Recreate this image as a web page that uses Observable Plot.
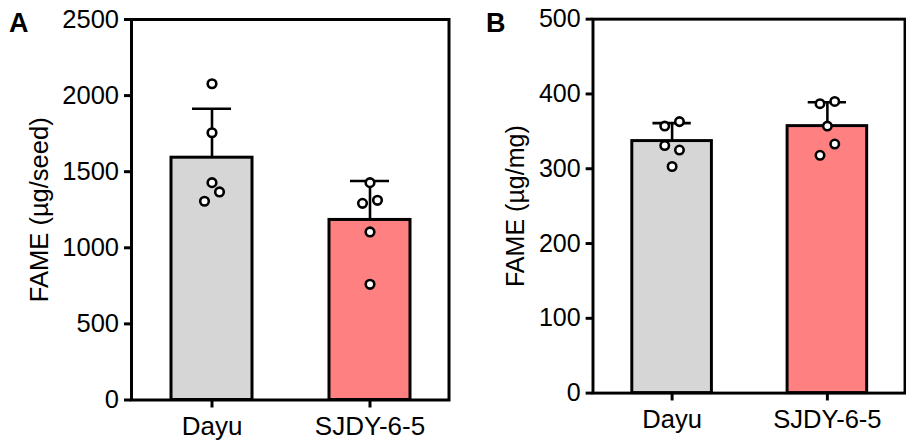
<!DOCTYPE html>
<html><head><meta charset="utf-8">
<script src="https://cdn.jsdelivr.net/npm/d3@7"></script>
<script src="https://cdn.jsdelivr.net/npm/@observablehq/plot@0.6"></script>
<style>
body{margin:0;background:#fff;}
#wrap{position:relative;width:906px;height:442px;overflow:hidden;background:#fff;font-family:"Liberation Sans",Arial,sans-serif;}
.panel{position:absolute;top:0;}
.letter{position:absolute;font-weight:bold;font-size:27px;line-height:27px;color:#000;}
</style></head><body>
<div id="wrap">
  <div id="pa" class="panel" style="left:0px"></div>
  <div id="pb" class="panel" style="left:450px"></div>
  <div class="letter" style="left:9px;top:10px">A</div>
  <div class="letter" style="left:486px;top:10px">B</div>
</div>
<script>
// ---- data ----
const genotypes = ["Dayu", "SJDY-6-5"];
const barColors = ["#d6d6d6", "#ff8080"];

// Panel A: FAME per seed
const seedMean = [1592, 1183];
const seedSD = [322, 256];
const seedDayu = [2078, 1756, 1428, 1367, 1306];
const seedDayuLane = [0, 0, 0, 1, -1];
const seedSJDY = [1428, 1292, 1312, 1104, 760];
const seedSJDYLane = [0, -1, 1, 0, 0];
const seedTicks = [0, 500, 1000, 1500, 2000, 2500];

// Panel B: FAME per mg
const mgMean = [337, 357];
const mgSD = [24, 32];
const mgDayu = [357, 363, 331, 325, 303];
const mgDayuLane = [-1, 1, -1, 1, 0];
const mgSJDY = [387, 390, 357, 333, 318];
const mgSJDYLane = [-1, 1, 0, 1, -1];
const mgTicks = [0, 100, 200, 300, 400, 500];

function panel({mean, sd, groups, lanes, ticks, label, marginLeft, width, labelOffset}) {
  const bars = genotypes.map((g, i) => ({g, mean: mean[i], sd: sd[i]}));
  const pts = [];
  groups.forEach((vals, i) => vals.forEach((v, j) => pts.push({g: genotypes[i], v, lane: lanes[i][j]})));
  const dotMarks = [-1, 0, 1].map(l => Plot.dot(pts.filter(d => d.lane === l), {
    x: "g", y: "v", r: 4.3, fill: "white", stroke: "black", strokeWidth: 2.6, dx: l * 7.5
  }));
  return Plot.plot({
    width, height: 442,
    marginLeft, marginRight: 1.5, marginTop: 19, marginBottom: 42.5,
    style: {fontFamily: '"Liberation Sans", Arial, sans-serif', fontSize: "25.5px", color: "black", background: "transparent", overflow: "visible"},
    x: {domain: genotypes, paddingInner: 0.487, paddingOuter: 0.248, align: 0.51, label: null},
    y: {domain: [0, ticks[ticks.length - 1]], label: null},
    color: {domain: genotypes, range: barColors},
    marks: [
      Plot.barY(bars, {x: "g", y: "mean", fill: "g", stroke: "black", strokeWidth: 3}),
      Plot.ruleX(bars, {x: "g", y1: "mean", y2: d => d.mean + d.sd, stroke: "black", strokeWidth: 2.6}),
      Plot.tickY(bars, {x: "g", y: d => d.mean + d.sd, stroke: "black", strokeWidth: 2.6, insetLeft: 21, insetRight: 21}),
      ...dotMarks,
      Plot.frame({stroke: "black", strokeWidth: 3}),
      Plot.axisY({ticks, tickSize: 7, tickPadding: 5.5, strokeWidth: 3, tickFormat: d => String(d),
        label, labelAnchor: "center", labelArrow: "none", labelOffset}),
      Plot.axisX({tickSize: 8, tickPadding: 9, strokeWidth: 3, fontSize: 26, label: null})
    ]
  });
}

document.getElementById("pa").appendChild(panel({
  mean: seedMean, sd: seedSD, groups: [seedDayu, seedSJDY], lanes: [seedDayuLane, seedSJDYLane],
  ticks: seedTicks, label: "FAME (µg/seed)", marginLeft: 131, width: 450, labelOffset: 102
}));
document.getElementById("pb").appendChild(panel({
  mean: mgMean, sd: mgSD, groups: [mgDayu, mgSJDY], lanes: [mgDayuLane, mgSJDYLane],
  ticks: mgTicks, label: "FAME (µg/mg)", marginLeft: 145, width: 464, labelOffset: 88
}));
</script>
</body></html>
